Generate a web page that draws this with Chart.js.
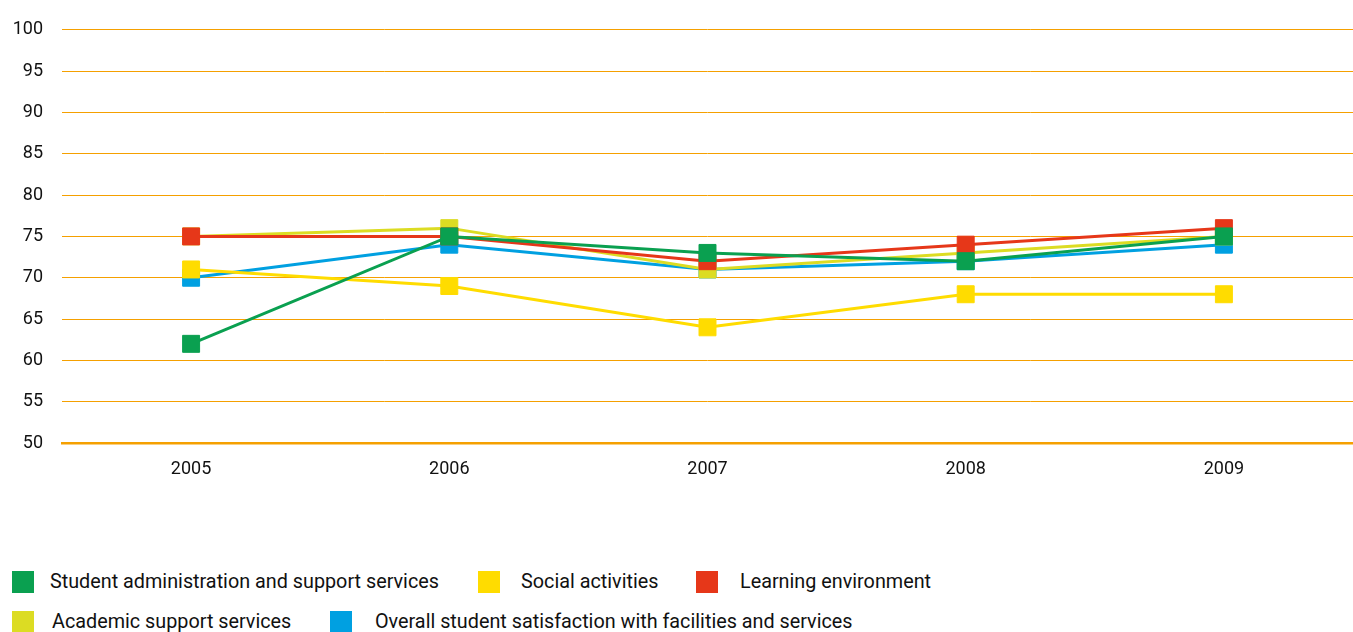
<!DOCTYPE html>
<html><head><meta charset="utf-8">
<script src="https://cdn.jsdelivr.net/npm/chart.js@4"></script>
<style>
html,body{margin:0;padding:0;background:#fff;}
#wrap{position:relative;width:1353px;height:632px;overflow:hidden;font-family:Roboto,sans-serif;}
#c{position:absolute;left:0;top:0;}
.bx{position:absolute;width:22px;height:22px;}
.tx{position:absolute;font-size:19.8px;color:#111;white-space:nowrap;line-height:24px;}
</style></head>
<body><div id="wrap"><canvas id="c" width="1353" height="500"></canvas><div id="legend"></div></div>
<script>
const categories = ['2005','2006','2007','2008','2009'];
const studentAdmin = [62, 75, 73, 72, 75];
const socialActivities = [71, 69, 64, 68, 68];
const learningEnv = [75, 75, 72, 74, 76];
const academicSupport = [75, 76, 71, 73, 75];
const overallSatisfaction = [70, 74, 71, 72, 74];
const seriesNames = ['Student administration and support services','Social activities','Learning environment','Academic support services','Overall student satisfaction with facilities and services'];
const seriesColors = ['#0aa050','#ffdc00','#e63719','#dcdc23','#00a0e1'];
const seriesData = [studentAdmin, socialActivities, learningEnv, academicSupport, overallSatisfaction];
const yTicks = [50,55,60,65,70,75,80,85,90,95,100];

const datasets = seriesData.map((d,i)=>({
  label: seriesNames[i], data: d,
  borderColor: seriesColors[i], backgroundColor: seriesColors[i],
  borderWidth: 3, pointStyle: 'rect', pointRadius: 12, pointHoverRadius: 12,
  pointBorderWidth: 1, pointBorderColor: seriesColors[i], tension: 0
}));

new Chart(document.getElementById('c'), {
  type: 'line',
  data: { labels: categories, datasets },
  options: {
    responsive: false, animation: false,
    layout: { autoPadding: false, padding: { top: 27, right: 0, left: 0, bottom: 0 } },
    plugins: { legend: { display: false }, tooltip: { enabled: false } },
    scales: {
      x: {
        offset: true,
        grid: { display: false, drawTicks: false },
        border: { display: true, color: '#f5a000', width: 2.5 },
        ticks: { color: '#111', font: { family: 'Roboto', size: 18 }, padding: 16 },
        afterFit: s => { s.height = 57; }
      },
      y: {
        min: 50, max: 100,
        afterBuildTicks: s => { s.ticks = yTicks.map(v=>({value:v})); },
        grid: { color: '#f5a000', lineWidth: 1, drawTicks: false },
        border: { display: false },
        ticks: { color: '#111', font: { family: 'Roboto', size: 18 }, padding: 19 },
        afterFit: s => { s.width = 62; }
      }
    }
  }
});

const boxX = [12,478,696,12,330];
const textX = [50,521,740,52,375];
const rowY = [582,582,582,622,622];
const lg = document.getElementById('legend');
seriesNames.forEach((n,i)=>{
  const b = document.createElement('div');
  b.className='bx'; b.style.left=boxX[i]+'px'; b.style.top=(rowY[i]-11)+'px'; b.style.background=seriesColors[i];
  lg.appendChild(b);
  const t = document.createElement('div');
  t.className='tx'; t.style.left=textX[i]+'px'; t.style.top=(rowY[i]-12)+'px'; t.textContent=n;
  lg.appendChild(t);
});
</script></body></html>
